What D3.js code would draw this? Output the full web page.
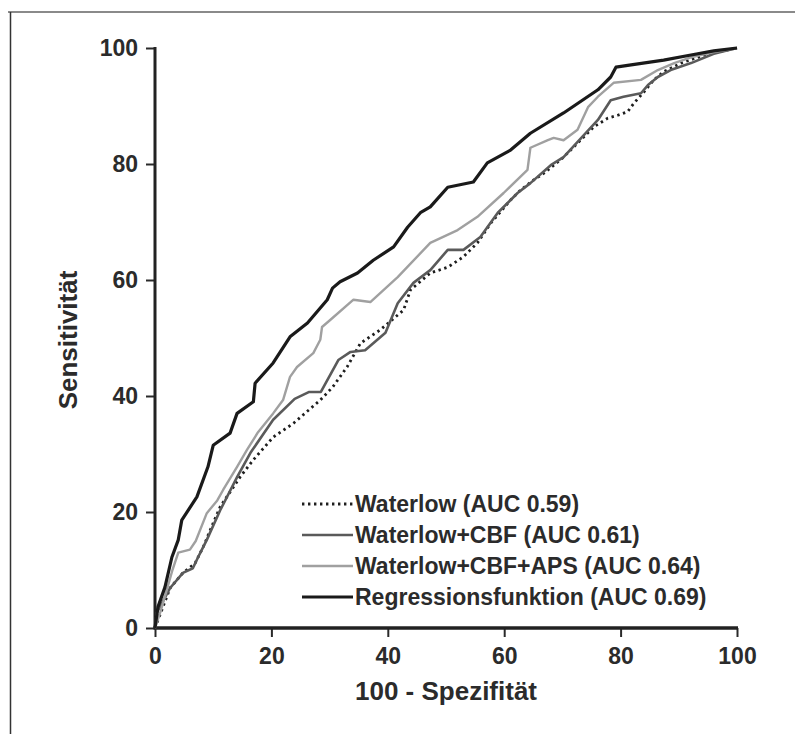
<!DOCTYPE html>
<html lang="de">
<head>
<meta charset="UTF-8">
<title>ROC-Kurven</title>
<script src="https://d3js.org/d3.v7.min.js"></script>
<style>
  body { margin: 0; background: #fff; }
  svg text { font-family: "Liberation Sans", Arial, Helvetica, sans-serif; font-weight: bold; fill: #2b2b2b; }
</style>
</head>
<body>
<div id="chart"></div>
<script>
const breite = 795, hoehe = 734;

// Achsen
const xTicks = [0, 20, 40, 60, 80, 100];
const yTicks = [0, 20, 40, 60, 80, 100];

// ROC-Kurven (100 - Spezifität, Sensitivität)
const waterlowX = [0, 2.6, 4.8, 6.9, 8.3, 10, 11.2, 14.6, 16.9, 20.3, 23.8, 28.4, 30.5, 33, 35.3, 38.7, 42.7, 43.9, 47.3, 50.3, 53, 55.4, 57.7, 61.1, 62.8, 65, 66.8, 70, 75.4, 77.8, 79.5, 81.2, 82.3, 84, 85.7, 87.4, 90.4, 95, 100];
const waterlowY = [0, 6.9, 9.5, 11.2, 14, 18.1, 20.9, 26, 29, 32.9, 35.3, 39.3, 41.5, 45, 49.1, 51.4, 54.8, 58.3, 61.2, 62.2, 64, 66.4, 69.8, 73.8, 75.5, 77.2, 78.4, 81, 86.4, 87.9, 88.4, 89, 90.5, 92.4, 94.5, 95.9, 97.4, 99, 100];

const cbfX = [0, 0.3, 2.6, 4.8, 6.5, 7.4, 8.9, 11.2, 14.1, 16.4, 20.3, 24, 26.5, 28.5, 31.5, 33.6, 36.1, 39.6, 41.7, 44.4, 47.3, 50.3, 53, 55.9, 58.9, 62.3, 64.5, 68, 70.2, 76.1, 78.3, 80.5, 83.5, 84.7, 86.4, 88.6, 92.1, 96, 100];
const cbfY = [0, 2.6, 6.9, 9.5, 10.3, 12.2, 15.2, 20.3, 26, 30.2, 35.9, 39.5, 40.7, 40.7, 46.2, 47.6, 47.9, 50.9, 56, 59.5, 61.7, 65.2, 65.2, 67.4, 71.6, 75, 76.7, 79.8, 81.2, 87.6, 91, 91.6, 92.2, 93.6, 95, 96.2, 97.4, 99, 100];

const apsX = [0, 1, 2, 3, 4, 6, 7, 8.9, 10.7, 11.7, 14.1, 15.8, 17.6, 20.3, 22, 23.2, 24.4, 27.2, 28.4, 28.7, 30.1, 34.1, 37, 41.7, 47.3, 52, 55.4, 59.9, 64, 64.5, 67.5, 68.5, 70.2, 72.6, 74.4, 76.1, 78.8, 83.5, 86.4, 89.2, 92.1, 96, 100];
const apsY = [0, 3, 6.5, 10, 13, 13.5, 15, 19.8, 22, 23.8, 27.8, 30.7, 33.6, 37, 39.3, 43.3, 45, 47.4, 49.7, 51.9, 53.1, 56.6, 56.2, 60.5, 66.4, 68.6, 70.9, 75, 79, 82.8, 84.1, 84.5, 84.1, 85.9, 89.8, 91.6, 94, 94.5, 96.2, 97.4, 98.4, 99.3, 100];

const regX = [0, 0.5, 1.7, 2.9, 4, 4.6, 7.2, 9.1, 10, 12.9, 14.1, 16.9, 17.2, 20.3, 23.2, 26.2, 29.6, 30.5, 31.8, 34.8, 37.5, 41, 43.4, 45.6, 47.3, 50.3, 54.7, 57.1, 61.1, 64.5, 70.2, 76.1, 78.3, 79.2, 81.8, 87.4, 92.1, 96, 100];
const regY = [0, 3.6, 7, 12.2, 15.2, 18.6, 22.6, 27.8, 31.5, 33.6, 37, 39, 42.2, 45.7, 50.2, 52.6, 56.6, 58.6, 59.7, 61.2, 63.4, 65.7, 69.1, 71.6, 72.6, 76, 76.9, 80.2, 82.4, 85.3, 88.8, 92.8, 95, 96.7, 97.1, 97.9, 98.8, 99.5, 100];

const legendeTexte = ["Waterlow (AUC 0.59)", "Waterlow+CBF (AUC 0.61)", "Waterlow+CBF+APS (AUC 0.64)", "Regressionsfunktion (AUC 0.69)"];

const serien = [
  { xs: waterlowX, ys: waterlowY, farbe: "#1e1e1e", breite: 2.8, strich: "2.4,3.6", label: legendeTexte[0] },
  { xs: cbfX, ys: cbfY, farbe: "#5a5a5a", breite: 2.6, strich: null, label: legendeTexte[1] },
  { xs: apsX, ys: apsY, farbe: "#a0a0a0", breite: 2.4, strich: null, label: legendeTexte[2] },
  { xs: regX, ys: regY, farbe: "#1a1a1a", breite: 3.2, strich: null, label: legendeTexte[3] }
];

const svg = d3.select("#chart").append("svg")
  .attr("width", breite)
  .attr("height", hoehe);

// Rahmen (oben und links)
svg.append("line").attr("x1", 8).attr("x2", breite).attr("y1", 12).attr("y2", 12)
  .attr("stroke", "#8a8a8a").attr("stroke-width", 2);
svg.append("line").attr("x1", 10.5).attr("x2", 10.5).attr("y1", 12).attr("y2", hoehe)
  .attr("stroke", "#333").attr("stroke-width", 1.5);

const x = d3.scaleLinear().domain([0, 100]).range([155, 737]);
const y = d3.scaleLinear().domain([0, 100]).range([628, 48]);

// y-Achse
const yAchse = svg.append("g").attr("transform", `translate(${x(0)},0)`)
  .call(d3.axisLeft(y).tickValues(yTicks).tickSize(9).tickSizeOuter(0).tickPadding(8));
yAchse.select(".domain").remove();
yAchse.selectAll(".tick line").attr("stroke", "#2a2a2a").attr("stroke-width", 2);
yAchse.selectAll(".tick text").attr("font-size", 23).attr("fill", "#2b2b2b");
svg.append("line").attr("x1", x(0)).attr("x2", x(0)).attr("y1", y(100) - 1).attr("y2", y(0))
  .attr("stroke", "#222").attr("stroke-width", 3);

// x-Achse
const xAchse = svg.append("g").attr("transform", `translate(0,${y(0)})`)
  .call(d3.axisBottom(x).tickValues(xTicks).tickSize(9).tickSizeOuter(0).tickPadding(11));
xAchse.select(".domain").remove();
xAchse.selectAll(".tick line").attr("stroke", "#2a2a2a").attr("stroke-width", 2);
xAchse.selectAll(".tick text").attr("font-size", 23).attr("fill", "#2b2b2b");
svg.append("line").attr("x1", x(0) - 1.5).attr("x2", x(100) + 1).attr("y1", y(0)).attr("y2", y(0))
  .attr("stroke", "#222").attr("stroke-width", 3.5);

// Achsentitel
svg.append("text").attr("x", 446).attr("y", 700).attr("text-anchor", "middle")
  .attr("font-size", 26).text("100 - Spezifität");
svg.append("text").attr("transform", "translate(77,340) rotate(-90)").attr("text-anchor", "middle")
  .attr("font-size", 26).text("Sensitivität");

// Kurven
const linie = d3.line().x(d => x(d[0])).y(d => y(d[1]));
serien.forEach(s => {
  const punkte = s.xs.map((v, i) => [v, s.ys[i]]);
  const pfad = svg.append("path").datum(punkte)
    .attr("d", linie)
    .attr("fill", "none")
    .attr("stroke", s.farbe)
    .attr("stroke-width", s.breite)
    .attr("stroke-linejoin", "round");
  if (s.strich) pfad.attr("stroke-dasharray", s.strich);
});

// Legende
const legende = svg.append("g");
serien.forEach((s, i) => {
  const ly = 504 + i * 31;
  const l = legende.append("line").attr("x1", 302).attr("x2", 353).attr("y1", ly).attr("y2", ly)
    .attr("stroke", s.farbe).attr("stroke-width", s.breite);
  if (s.strich) l.attr("stroke-dasharray", s.strich);
  legende.append("text").attr("x", 355).attr("y", ly).attr("dy", "0.36em")
    .attr("font-size", 23).text(s.label);
});
</script>
</body>
</html>
